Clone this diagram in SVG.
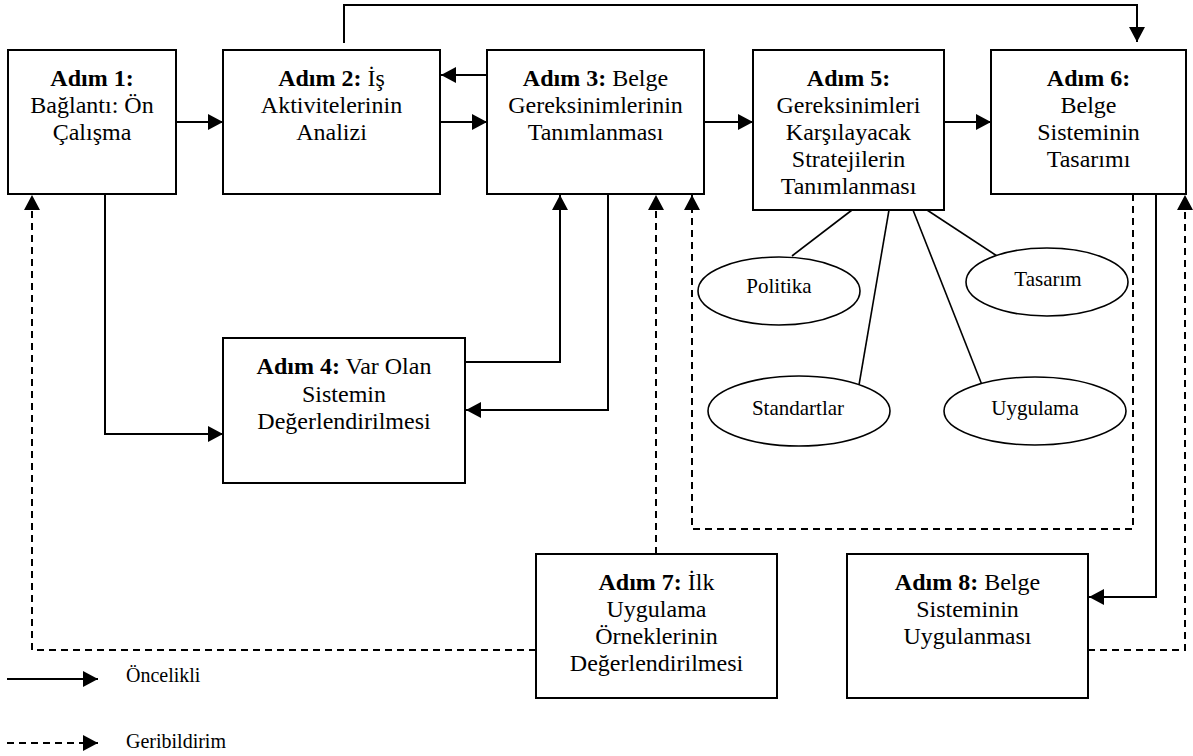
<svg xmlns="http://www.w3.org/2000/svg" width="1193" height="756" viewBox="0 0 1193 756">
<style>
.box{fill:#fff;stroke:#000;stroke-width:2}
.ell{fill:#fff;stroke:#000;stroke-width:1.6}
text{font-family:'Liberation Serif','DejaVu Serif','Times New Roman',serif;fill:#000}
.t{font-size:24px;text-anchor:middle}
.b{font-weight:bold}
.et{font-size:21px;text-anchor:middle}
.lt{font-size:20px}
.c{fill:none;stroke:#000;stroke-width:2}
.d{fill:none;stroke:#000;stroke-width:2;stroke-dasharray:7 5}
.s{fill:none;stroke:#000;stroke-width:1.6}
</style>
<defs>
<marker id="ah" markerUnits="userSpaceOnUse" markerWidth="16" markerHeight="16" refX="15" refY="8" orient="auto">
<path d="M0,0 L15,8 L0,16 z" fill="#000"/>
</marker>
</defs>
<rect width="1193" height="756" fill="#fff"/>
<g id="connectors">
<path class="c" d="M344,43 V5 H1137 V42" marker-end="url(#ah)"/>
<path class="c" d="M176,122 H223" marker-end="url(#ah)"/>
<path class="c" d="M487,75 H441" marker-end="url(#ah)"/>
<path class="c" d="M440,122 H487" marker-end="url(#ah)"/>
<path class="c" d="M704,122 H753" marker-end="url(#ah)"/>
<path class="c" d="M944,122 H991" marker-end="url(#ah)"/>
<path class="c" d="M105,194 V434 H223" marker-end="url(#ah)"/>
<path class="c" d="M465,362 H560 V195" marker-end="url(#ah)"/>
<path class="c" d="M608,194 V410 H466" marker-end="url(#ah)"/>
<path class="c" d="M1156,194 V597 H1089" marker-end="url(#ah)"/>
<path class="d" d="M1133,194 V529 H692 V195" marker-end="url(#ah)"/>
<path class="d" d="M656,554 V195" marker-end="url(#ah)"/>
<path class="d" d="M536,650 H32 V195" marker-end="url(#ah)"/>
<path class="d" d="M1088,650 H1185 V195" marker-end="url(#ah)"/>
<path class="s" d="M852,210 L792,256"/>
<path class="s" d="M889,210 L859,385"/>
<path class="s" d="M913,210 L982,385"/>
<path class="s" d="M927,210 L997,256"/>
</g>
<g id="step1">
<rect class="box" x="8" y="50" width="168" height="144"/>
<text class="t" x="92" y="86"><tspan class="b">Adım 1:</tspan></text>
<text class="t" x="92" y="113">Bağlantı: Ön</text>
<text class="t" x="92" y="140">Çalışma</text>
</g>
<g id="step2">
<rect class="box" x="223" y="50" width="217" height="144"/>
<text class="t" x="331.5" y="86"><tspan class="b">Adım 2:</tspan> İş</text>
<text class="t" x="331.5" y="113">Aktivitelerinin</text>
<text class="t" x="331.5" y="140">Analizi</text>
</g>
<g id="step3">
<rect class="box" x="487" y="50" width="217" height="144"/>
<text class="t" x="595.5" y="86"><tspan class="b">Adım 3:</tspan> Belge</text>
<text class="t" x="595.5" y="113">Gereksinimlerinin</text>
<text class="t" x="595.5" y="140">Tanımlanması</text>
</g>
<g id="step5">
<rect class="box" x="753" y="50" width="191" height="160"/>
<text class="t" x="848.5" y="86"><tspan class="b">Adım 5:</tspan></text>
<text class="t" x="848.5" y="113">Gereksinimleri</text>
<text class="t" x="848.5" y="140">Karşılayacak</text>
<text class="t" x="848.5" y="167">Stratejilerin</text>
<text class="t" x="848.5" y="194">Tanımlanması</text>
</g>
<g id="step6">
<rect class="box" x="991" y="50" width="195" height="144"/>
<text class="t" x="1088.5" y="86"><tspan class="b">Adım 6:</tspan></text>
<text class="t" x="1088.5" y="113">Belge</text>
<text class="t" x="1088.5" y="140">Sisteminin</text>
<text class="t" x="1088.5" y="167">Tasarımı</text>
</g>
<g id="step4">
<rect class="box" x="223" y="338" width="242" height="145"/>
<text class="t" x="344" y="374"><tspan class="b">Adım 4:</tspan> Var Olan</text>
<text class="t" x="344" y="402">Sistemin</text>
<text class="t" x="344" y="429">Değerlendirilmesi</text>
</g>
<g id="step7">
<rect class="box" x="536" y="554" width="241" height="144"/>
<text class="t" x="656.5" y="590"><tspan class="b">Adım 7:</tspan> İlk</text>
<text class="t" x="656.5" y="617">Uygulama</text>
<text class="t" x="656.5" y="644">Örneklerinin</text>
<text class="t" x="656.5" y="671">Değerlendirilmesi</text>
</g>
<g id="step8">
<rect class="box" x="847" y="554" width="241" height="144"/>
<text class="t" x="967.5" y="590"><tspan class="b">Adım 8:</tspan> Belge</text>
<text class="t" x="967.5" y="617">Sisteminin</text>
<text class="t" x="967.5" y="644">Uygulanması</text>
</g>
<g id="politika">
<ellipse class="ell" cx="779" cy="291" rx="81" ry="34"/>
<text class="et" x="779" y="293">Politika</text>
</g>
<g id="tasarim">
<ellipse class="ell" cx="1047" cy="282" rx="81" ry="34"/>
<text class="et" x="1048" y="286">Tasarım</text>
</g>
<g id="standartlar">
<ellipse class="ell" cx="799" cy="411" rx="91" ry="35"/>
<text class="et" x="798" y="415">Standartlar</text>
</g>
<g id="uygulama">
<ellipse class="ell" cx="1035" cy="411" rx="91" ry="34"/>
<text class="et" x="1035" y="415">Uygulama</text>
</g>
<g id="legend">
<path class="c" d="M7,679 H98" marker-end="url(#ah)"/>
<text class="lt" x="126" y="682">Öncelikli</text>
<path class="d" d="M7,743 H98" marker-end="url(#ah)"/>
<text class="lt" x="126" y="748">Geribildirim</text>
</g>
</svg>
